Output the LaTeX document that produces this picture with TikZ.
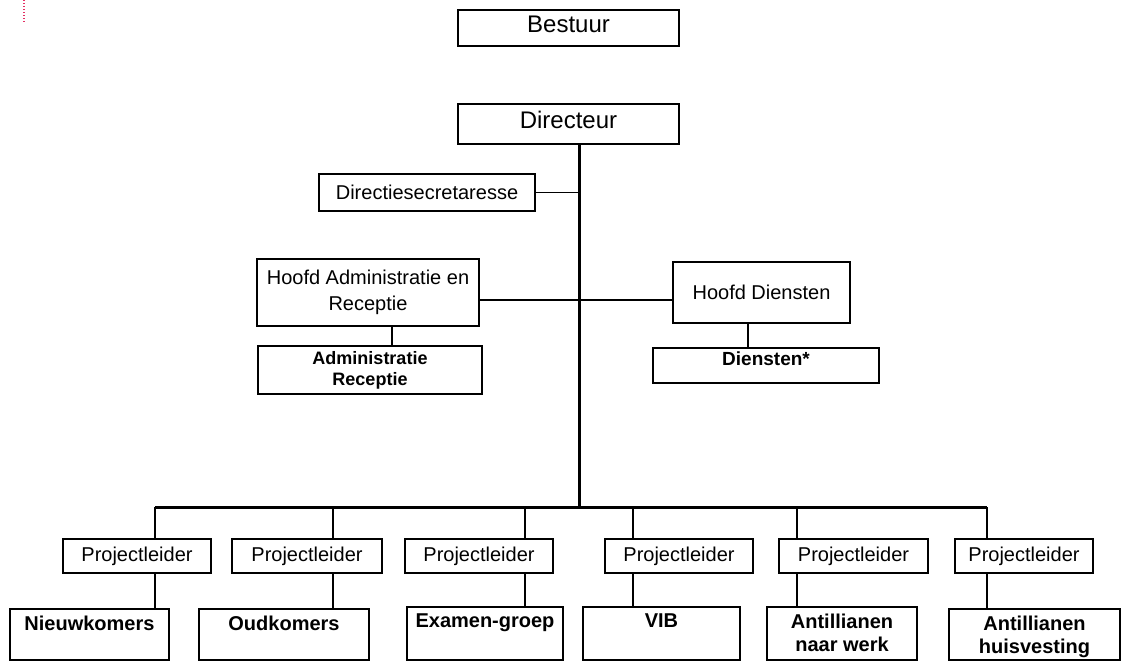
\documentclass[tikz,border=0pt]{standalone}
\usepackage{fontspec}
\setmainfont{Liberation Sans}
\newcommand\fsz[2]{\fontsize{#1}{#2}\selectfont}
\definecolor{pinkdot}{RGB}{228,48,100}
\begin{document}
\begin{tikzpicture}[x=1pt,y=-1pt,
  box/.style={draw, line width=1.1pt, inner sep=0pt, align=center},
  lbl/.style={anchor=north, inner sep=0pt, align=center},
  nfont/.style={font=\fsz{20}{26}},
  bfont/.style={font=\bfseries\fsz{20}{23}},
  conn/.style={line width=1.1pt},
  spine/.style={line width=3pt}]
\useasboundingbox (0,0) rectangle (1121,661);
\draw[pinkdot, line width=1.2pt, dash pattern=on 1.5pt off 1.5pt] (24,0) -- (24,23);

% top
\node[box, minimum width=221pt, minimum height=36pt,
      label={[lbl,font=\fsz{24}{28},yshift=-6pt]north:Bestuur}] (bestuur) at (568.5,28) {};
\node[box, minimum width=221pt, minimum height=40pt,
      label={[lbl,font=\fsz{24}{28},yshift=-7pt]north:Directeur}] (dir) at (568.5,124) {};

\node[box, nfont, minimum width=216pt, minimum height=37pt] (ds) at (427,192.5) {Directiesecretaresse};
\node[box, nfont, minimum width=222pt, minimum height=67pt] (ha) at (368,292.5) {Hoofd Administratie en\\Receptie};
\node[box, nfont, minimum width=177pt, minimum height=61pt] (hd) at (761.5,292.5) {Hoofd Diensten};
\node[box, font=\bfseries\fsz{18}{21}, minimum width=224pt, minimum height=48pt] (ar) at (370,370) {Administratie\\Receptie};
\node[box, minimum width=226pt, minimum height=35pt,
      label={[lbl,font=\bfseries\fsz{19}{23},yshift=-4pt]north:Diensten*}] (dn) at (766,365.5) {};

% project leaders
\node[box, nfont, minimum width=148pt, minimum height=34pt] (pl1) at (137,556) {Projectleider};
\node[box, nfont, minimum width=150pt, minimum height=34pt] (pl2) at (307,556) {Projectleider};
\node[box, nfont, minimum width=148pt, minimum height=34pt] (pl3) at (479,556) {Projectleider};
\node[box, nfont, minimum width=148pt, minimum height=34pt] (pl4) at (679,556) {Projectleider};
\node[box, nfont, minimum width=149pt, minimum height=34pt] (pl5) at (853.5,556) {Projectleider};
\node[box, nfont, minimum width=138pt, minimum height=34pt] (pl6) at (1024,556) {Projectleider};

% bottom boxes
\node[box, minimum width=159pt, minimum height=51pt,
      label={[lbl,bfont,yshift=-7pt]north:Nieuwkomers}] (nk) at (89.5,634.5) {};
\node[box, minimum width=170pt, minimum height=51pt,
      label={[lbl,bfont,yshift=-7pt]north:Oudkomers}] (ok) at (284,634.5) {};
\node[box, minimum width=156pt, minimum height=53pt,
      label={[lbl,bfont,yshift=-7pt]north:Examen-groep}] (eg) at (485,633.5) {};
\node[box, minimum width=157pt, minimum height=53pt,
      label={[lbl,bfont,yshift=-7pt]north:VIB}] (vib) at (661.5,633.5) {};
\node[box, minimum width=150pt, minimum height=53pt,
      label={[lbl,bfont,yshift=-7pt]north:Antillianen\\naar werk}] (anw) at (842,633.5) {};
\node[box, minimum width=171pt, minimum height=51pt,
      label={[lbl,bfont,yshift=-7pt]north:Antillianen\\huisvesting}] (ahv) at (1034.5,634.5) {};

% spine and bar
\coordinate (j) at (579,507);
\coordinate (b1) at (155,507);
\coordinate (b2) at (333,507);
\coordinate (b3) at (525,507);
\coordinate (b4) at (633,507);
\coordinate (b5) at (797,507);
\coordinate (b6) at (987,507);
\draw[spine] (dir.south -| j) -- ([yshift=1.5pt]j);
\draw[spine] (b1) -- (b6);

% branches
\draw[conn] (ds.east) -- (ds.east -| j);
\draw[conn] ([yshift=-7.5pt]ha.east) -- ([yshift=-7.5pt]hd.west);
\draw[conn] ([xshift=24pt]ha.south) -- ([xshift=24pt]ha.south |- ar.north);
\draw[conn] ([xshift=-13.5pt]hd.south) -- ([xshift=-13.5pt]hd.south |- dn.north);

\foreach \i/\b in {1/nk,2/ok,3/eg,4/vib,5/anw,6/ahv}{
  \draw[conn] (b\i) -- (b\i |- pl\i.north);
  \draw[conn] (pl\i.south -| b\i) -- (\b.north -| b\i);
}
\end{tikzpicture}
\end{document}
